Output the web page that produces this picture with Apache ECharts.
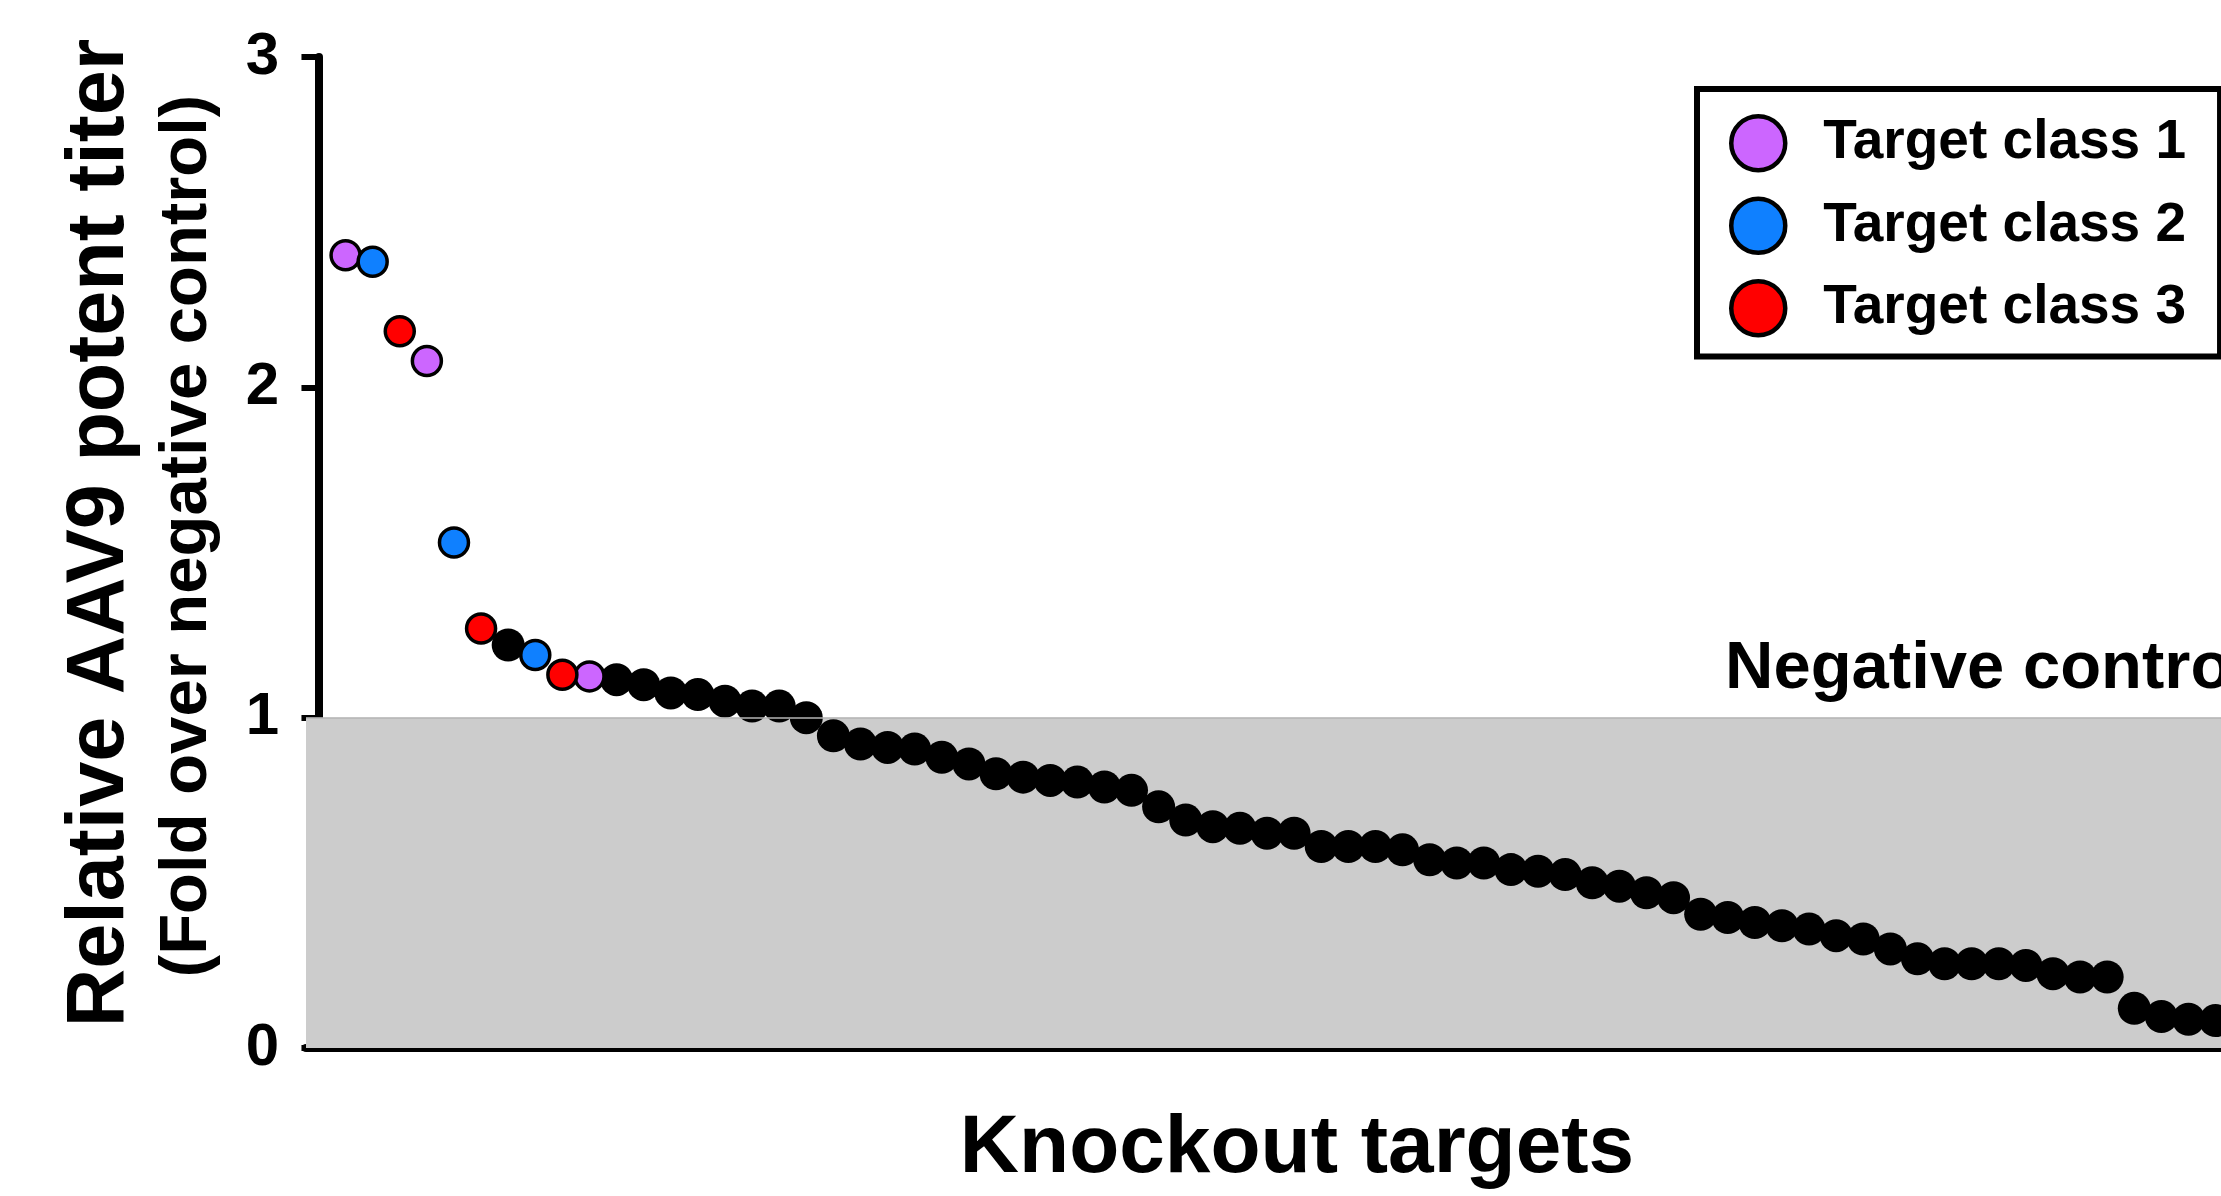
<!DOCTYPE html>
<html>
<head>
<meta charset="utf-8">
<script src="https://cdn.jsdelivr.net/npm/echarts@6/dist/echarts.min.js"></script>
<style>
  html, body { margin: 0; padding: 0; background: #ffffff; }
  #chart { width: 2221px; height: 1196px; }
</style>
</head>
<body>
<div id="chart"></div>
<script>
// Relative AAV9 potent titer per knockout target, ranked high to low
const titerValues = [
  2.40, 2.38, 2.17, 2.08, 1.53, 1.27, 1.22, 1.19, 1.13, 1.125,
  1.115, 1.10, 1.075, 1.07, 1.05, 1.035, 1.035, 1.00, 0.945, 0.92,
  0.91, 0.905, 0.88, 0.86, 0.83, 0.82, 0.81, 0.805, 0.79, 0.78,
  0.73, 0.69, 0.67, 0.665, 0.65, 0.65, 0.61, 0.61, 0.61, 0.60,
  0.57, 0.56, 0.56, 0.54, 0.535, 0.525, 0.50, 0.49, 0.47, 0.455,
  0.405, 0.395, 0.38, 0.37, 0.36, 0.34, 0.33, 0.30, 0.27, 0.255,
  0.255, 0.255, 0.25, 0.225, 0.215, 0.215, 0.12, 0.095, 0.087, 0.083
];
// 0 = unclassified target, 1..3 = target class
const targetClass = [
  1, 2, 3, 1, 2, 3, 0, 2, 3, 1,
  0, 0, 0, 0, 0, 0, 0, 0, 0, 0,
  0, 0, 0, 0, 0, 0, 0, 0, 0, 0,
  0, 0, 0, 0, 0, 0, 0, 0, 0, 0,
  0, 0, 0, 0, 0, 0, 0, 0, 0, 0,
  0, 0, 0, 0, 0, 0, 0, 0, 0, 0,
  0, 0, 0, 0, 0, 0, 0, 0, 0, 0
];
const classNames = ['Target class 1', 'Target class 2', 'Target class 3'];
const classColors = ['#cc66ff', '#0f80ff', '#ff0000'];
const yTicks = [0, 1, 2, 3];
const negativeControl = 1;

const FONT = "'Liberation Sans', Arial, Helvetica, sans-serif";

function pointsFor(cls) {
  const pts = [];
  titerValues.forEach((v, i) => {
    if (targetClass[i] === cls) pts.push([i + 1, v]);
  });
  return pts;
}

const series = [];
// unclassified targets: plain black dots, with the shaded band and reference line
series.push({
  name: 'Other',
  type: 'scatter',
  symbol: 'circle',
  symbolSize: 33,
  z: 2,
  itemStyle: { color: '#000000', opacity: 1 },
  data: pointsFor(0),
  markArea: {
    silent: true,
    itemStyle: { color: '#cccccc' },
    data: [[{ yAxis: yTicks[0] }, { yAxis: negativeControl }]]
  },
  markLine: {
    silent: true,
    symbol: 'none',
    label: { show: false },
    lineStyle: { color: '#b4b4b4', width: 1.5, type: 'solid' },
    data: [{ yAxis: negativeControl }]
  }
});
classNames.forEach((name, k) => {
  series.push({
    name: name,
    type: 'scatter',
    symbol: 'circle',
    symbolSize: 29,
    z: 3,
    itemStyle: { color: classColors[k], borderColor: '#000000', borderWidth: 3.5, opacity: 1 },
    data: pointsFor(k + 1)
  });
});

const chart = echarts.init(document.getElementById('chart'), null, { renderer: 'canvas' });
chart.setOption({
  animation: false,
  backgroundColor: '#ffffff',
  grid: { left: 306, top: 57, bottom: 148, right: 0, containLabel: false },
  xAxis: {
    type: 'value',
    min: -0.46,
    max: 70.2,
    axisLine: { show: true, onZero: false, lineStyle: { color: '#000000', width: 8 } },
    axisTick: { show: false },
    axisLabel: { show: false },
    splitLine: { show: false }
  },
  yAxis: {
    type: 'value',
    min: yTicks[0],
    max: yTicks[yTicks.length - 1],
    interval: 1,
    axisLine: { show: true, lineStyle: { color: '#000000', width: 8 } },
    axisTick: { show: true, inside: false, length: 17, lineStyle: { color: '#000000', width: 6 } },
    axisLabel: {
      show: true, margin: 27, color: '#000000',
      fontFamily: FONT, fontWeight: 'bold', fontSize: 60
    },
    splitLine: { show: false }
  },
  legend: {
    data: classNames,
    orient: 'vertical',
    left: 1697,
    top: 89,
    backgroundColor: '#ffffff',
    borderColor: '#000000',
    borderWidth: 6,
    borderRadius: 0,
    padding: [25, 34, 19, 32],
    itemGap: 24,
    itemWidth: 54,
    itemHeight: 54,
    icon: 'circle',
    itemStyle: { borderColor: '#000000', borderWidth: 4.5 },
    textStyle: {
      color: '#000000', fontFamily: FONT, fontWeight: 'bold', fontSize: 55,
      padding: [0, 0, 0, 33]
    },
    selectedMode: false
  },
  graphic: [
    {
      type: 'text',
      x: 101, y: 533,
      rotation: Math.PI / 2,
      style: {
        text: 'Relative AAV9 potent titer',
        fill: '#000000',
        font: "bold 81px " + FONT,
        textAlign: 'center',
        textVerticalAlign: 'middle'
      }
    },
    {
      type: 'text',
      x: 188, y: 536,
      rotation: Math.PI / 2,
      style: {
        text: '(Fold over negative control)',
        fill: '#000000',
        font: "bold 67px " + FONT,
        textAlign: 'center',
        textVerticalAlign: 'middle'
      }
    },
    {
      type: 'text',
      x: 1297, y: 1149,
      style: {
        text: 'Knockout targets',
        fill: '#000000',
        font: "bold 82px " + FONT,
        textAlign: 'center',
        textVerticalAlign: 'middle'
      }
    },
    {
      type: 'text',
      x: 1725, y: 670,
      style: {
        text: 'Negative control',
        fill: '#000000',
        font: "bold 67px " + FONT,
        textAlign: 'left',
        textVerticalAlign: 'middle'
      }
    }
  ],
  series: series
});
</script>
</body>
</html>
